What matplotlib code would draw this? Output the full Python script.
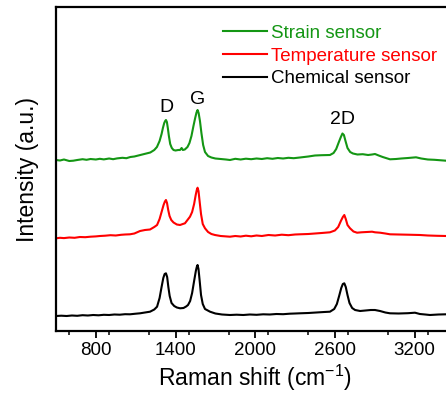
import matplotlib
matplotlib.use("Agg")
import matplotlib.pyplot as plt
from matplotlib.ticker import MultipleLocator

plt.rcParams['font.family'] = ['Liberation Sans', 'DejaVu Sans']

# Raman shift (cm^-1) and intensities (arbitrary units, already offset per series)
strain_x = [500, 530, 560, 600, 630, 660, 700, 730, 760, 800, 830, 860, 900, 930, 960, 1000,
            1030, 1060, 1090, 1120, 1150, 1180, 1210, 1240, 1260, 1280, 1295, 1305, 1315, 1322,
            1328, 1335, 1342, 1350, 1360, 1372, 1385, 1400, 1420, 1434, 1446, 1455, 1470, 1490,
            1505, 1520, 1535, 1548, 1558, 1566, 1574, 1584, 1595, 1608, 1622, 1645, 1670, 1700,
            1740, 1780, 1810, 1850, 1890, 1930, 1970, 2010, 2050, 2090, 2130, 2170, 2210, 2250,
            2290, 2337, 2400, 2450, 2500, 2563, 2590, 2610, 2630, 2645, 2657, 2668, 2680, 2695,
            2715, 2736, 2770, 2810, 2850, 2880, 2902, 2930, 2960, 3015, 3060, 3100, 3150, 3211,
            3250, 3300, 3350, 3437, 3500]
strain_y = [171, 170.5, 171.5, 170, 170.3, 171, 171.8, 171.2, 172, 171.5, 172.2, 171.6, 172.5,
            171.8, 172.6, 173.2, 172.8, 174, 174.5, 175.5, 176.5, 177.5, 178.5, 181, 184, 190,
            197, 203, 208, 210, 211, 209, 203, 195, 187, 183, 181, 180.5, 181, 181, 183, 181,
            181.5, 184, 188, 195, 205, 213, 218.5, 221, 218, 210, 198, 186, 179, 175, 173.5,
            172.5, 172, 171.5, 171, 172.2, 171.5, 172.3, 171.8, 172.5, 172, 172.8, 172.2, 173,
            172.5, 173.2, 172.8, 173.5, 174.5, 175.5, 175.8, 176, 178, 182, 189, 194, 197.5,
            196, 190, 183, 179, 177.5, 176.5, 176.8, 176, 176.5, 177, 175.5, 174, 171.7, 172,
            172.5, 173, 173.7, 172.5, 171.5, 171.2, 170.3, 170.5]

temp_x = [500, 530, 560, 600, 640, 680, 720, 760, 800, 831, 870, 910, 950, 990, 1020, 1057, 1090,
          1133, 1170, 1208, 1240, 1261, 1280, 1295, 1310, 1320, 1328, 1336, 1345, 1355, 1368,
          1385, 1410, 1434, 1455, 1471, 1490, 1509, 1525, 1540, 1552, 1560, 1566, 1573, 1582,
          1592, 1605, 1622, 1645, 1670, 1697, 1740, 1810, 1850, 1890, 1930, 1970, 2010, 2050,
          2100, 2150, 2200, 2250, 2300, 2337, 2400, 2450, 2500, 2563, 2600, 2625, 2645, 2660,
          2671, 2682, 2695, 2714, 2740, 2767, 2800, 2840, 2880, 2902, 2940, 2980, 3015, 3080,
          3150, 3241, 3300, 3370, 3437, 3500]
temp_y = [92.7, 93.2, 92.9, 93.5, 93.2, 94, 93.8, 94.3, 94.6, 95, 95.3, 95.8, 95.5, 96.2, 96.5,
          96.7, 97.5, 100, 101, 101.5, 104, 106, 112, 119, 126, 129.5, 131, 128, 121, 115, 111,
          108.5, 106.5, 106, 107, 107.7, 111, 114.3, 119, 127, 136, 141, 143.3, 140, 129, 117,
          107, 102.7, 99, 97, 96, 95, 94.3, 95, 94.5, 95.3, 94.7, 95.5, 95, 96, 95.5, 96.3,
          95.8, 96.5, 96.7, 97, 97.5, 98, 98.7, 100.5, 104, 110, 114, 116, 112, 106, 102.7,
          99.5, 98.3, 98.7, 99, 99.3, 98.7, 98.3, 97.5, 96.7, 96.5, 96.3, 96, 95.5, 95.2, 95, 95]

chem_x = [500, 540, 580, 620, 660, 700, 740, 780, 820, 860, 900, 940, 980, 1020, 1057, 1100, 1133,
          1170, 1208, 1240, 1261, 1280, 1295, 1308, 1318, 1328, 1337, 1346, 1356, 1370, 1390,
          1410, 1434, 1460, 1480, 1494, 1510, 1525, 1540, 1553, 1560, 1566, 1573, 1582, 1592,
          1605, 1622, 1660, 1700, 1750, 1810, 1860, 1910, 1960, 2010, 2060, 2110, 2160, 2210,
          2260, 2300, 2337, 2400, 2460, 2520, 2563, 2595, 2615, 2632, 2648, 2660, 2671, 2682,
          2695, 2710, 2730, 2752, 2790, 2830, 2870, 2902, 2940, 2980, 3015, 3080, 3150, 3203,
          3240, 3280, 3316, 3380, 3437, 3500]
chem_y = [15, 15.3, 15, 15.5, 15.2, 15.8, 15.5, 16, 15.7, 16.2, 16, 16.5, 16.3, 16.8, 16.7, 17.3,
          17.7, 18.5, 19.3, 21.5, 24.3, 33, 44, 53, 57, 57.7, 54, 44, 35, 28, 25, 23.5, 22.7, 23,
          24.5, 26, 30, 38, 50, 60, 64, 66, 62, 50, 36, 27, 22, 19.3, 17.5, 16.5, 16, 16.3, 16,
          16.5, 16.2, 16.7, 16.5, 17, 16.8, 17.3, 17.5, 17.7, 18, 18.5, 19, 19.3, 22, 27, 35,
          43, 47, 47.7, 44, 36, 28, 23, 21, 20, 20.5, 21, 21, 20, 18.5, 17.7, 17.5, 17.8, 18.3,
          17, 16.5, 16, 16.5, 16.7, 16.5]

series_labels = ["Strain sensor", "Temperature sensor", "Chemical sensor"]
peak_labels = ["D", "G", "2D"]
peak_pos = [1328, 1566, 2660]
peak_text_y = [223, 232, 212]
x_ticks = [800, 1400, 2000, 2600, 3200]

green = '#149614'
red = '#FF0000'
black = '#000000'

fig = plt.figure(figsize=(4.46, 3.96), dpi=100)
ax = fig.add_axes([56 / 446, 65 / 396, 398.4 / 446, 324 / 396])

ax.plot(strain_x, strain_y, color=green, lw=1.5, label=series_labels[0])
ax.plot(temp_x, temp_y, color=red, lw=1.5, label=series_labels[1])
ax.plot(chem_x, chem_y, color=black, lw=1.5, label=series_labels[2])

ax.set_xlim(500, 3500)
ax.set_ylim(0, 324)
ax.set_xticks(x_ticks)
ax.xaxis.set_minor_locator(MultipleLocator(300))
ax.set_yticks([])
ax.tick_params(axis='x', which='major', direction='out', length=5, width=1.3, labelsize=13.5, pad=3)
ax.tick_params(axis='x', which='minor', direction='out', length=3, width=1.1)
for s in ax.spines.values():
    s.set_linewidth(1.6)
ax.spines['right'].set_visible(False)

ax.set_xlabel("Raman shift (cm$^{\\mathregular{-1}}$)", fontsize=16.5, labelpad=3)
ax.set_ylabel("Intensity (a.u.)", fontsize=16.5, labelpad=12)

for lab, xp, yp in zip(peak_labels, peak_pos, peak_text_y):
    ax.text(xp, yp, lab, ha='center', va='center', fontsize=14)

leg = ax.legend(loc='upper left', bbox_to_anchor=(0.418, 0.945), frameon=False, fontsize=13.5,
                handlelength=2.35, handletextpad=0.21, labelspacing=0.3, labelcolor='linecolor',
                borderaxespad=0, borderpad=0)

fig.savefig("out.png", dpi=100)
